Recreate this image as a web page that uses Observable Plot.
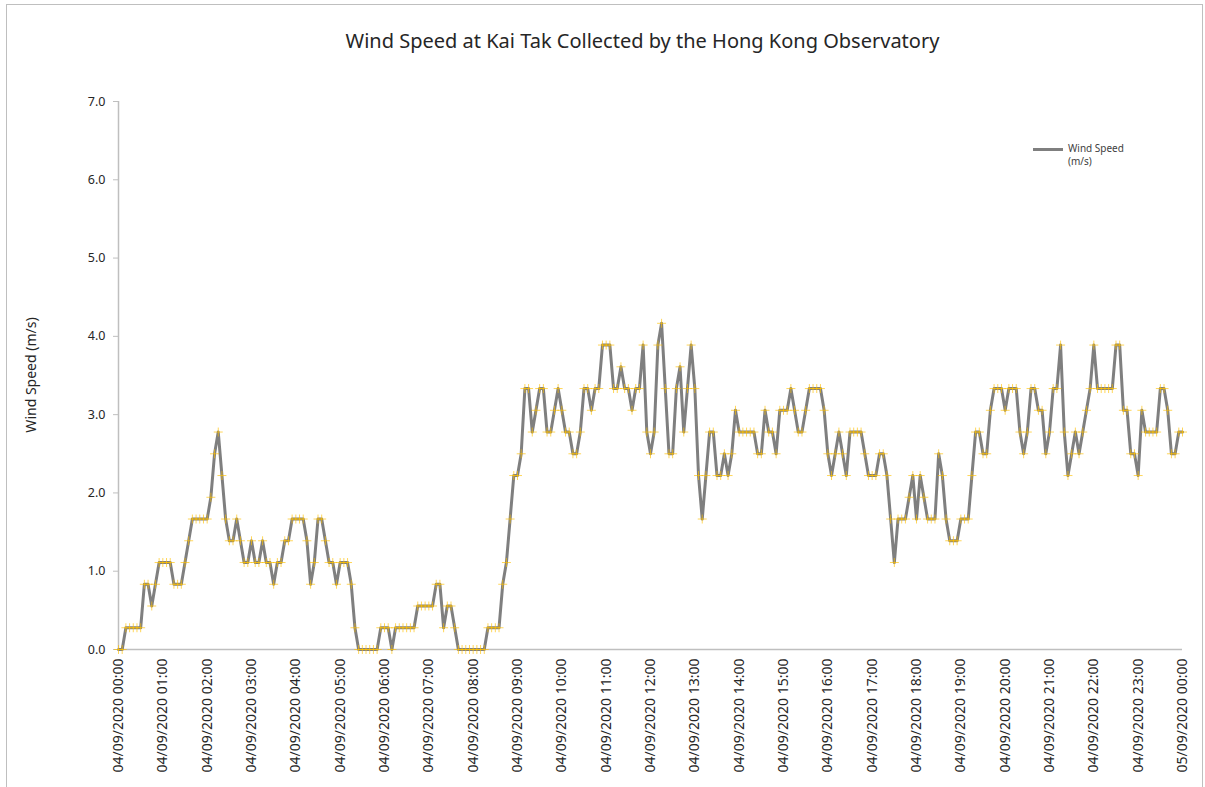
<!DOCTYPE html>
<html>
<head>
<meta charset="utf-8">
<script src="https://cdn.jsdelivr.net/npm/d3@7"></script>
<script src="https://cdn.jsdelivr.net/npm/@observablehq/plot@0.6"></script>
<style>
  html, body { margin: 0; padding: 0; background: #fff; }
  #wrap { position: relative; width: 1205px; height: 787px; overflow: hidden; font-family: "Noto Sans", "Open Sans", sans-serif; }
  #frame { position: absolute; left: 6px; top: 4px; width: 1197px; height: 800px; border: 1px solid #bfbfbf; box-sizing: border-box; }
  #title { position: absolute; left: 0; width: 1285px; top: 27px; text-align: center; font-size: 20px; color: #262626; }
  #chart { position: absolute; left: 0; top: 0; }
  #ylabel { position: absolute; left: 30px; top: 375px; transform: translate(-50%, -50%) rotate(-90deg); font-size: 14px; color: #262626; white-space: nowrap; }
  #legend { position: absolute; left: 1033px; top: 142px; font-size: 10px; color: #404040; line-height: 13px; }
  #legend .sw { position: absolute; left: 0; top: 6px; width: 30px; height: 3px; background: #7f7f7f; }
  #legend .tx { position: absolute; left: 35px; top: 0; white-space: nowrap; }
</style>
</head>
<body>
<div id="wrap">
  <div id="frame"></div>
  <div id="chart"></div>
  <div id="title">Wind Speed at Kai Tak Collected by the Hong Kong Observatory</div>
  <div id="ylabel">Wind Speed (m/s)</div>
  <div id="legend"><div class="sw"></div><div class="tx">Wind Speed<br>(m/s)</div></div>
</div>
<script>
// Series start and sampling step (5-minute readings), 04/09/2020 00:00 to 05/09/2020 00:00
const startTime = Date.UTC(2020, 8, 4, 0, 0);
const endTime = Date.UTC(2020, 8, 5, 0, 0);
const stepMinutes = 5;

// Wind speed readings in km/h, one row per hour, 5-minute steps
const speedKmh = [
  0,0,1,1,1,1,1,3,3,2,3,4,        // 00
  4,4,4,3,3,3,4,5,6,6,6,6,        // 01
  6,7,9,10,8,6,5,5,6,5,4,4,       // 02
  5,4,4,5,4,4,3,4,4,5,5,6,        // 03
  6,6,6,5,3,4,6,6,5,4,4,3,        // 04
  4,4,4,3,1,0,0,0,0,0,0,1,        // 05
  1,1,0,1,1,1,1,1,1,2,2,2,        // 06
  2,2,3,3,1,2,2,1,0,0,0,0,        // 07
  0,0,0,0,1,1,1,1,3,4,6,8,        // 08
  8,9,12,12,10,11,12,12,10,10,11,12, // 09
  11,10,10,9,9,10,12,12,11,12,12,14, // 10
  14,14,12,12,13,12,12,11,12,12,14,10, // 11
  9,10,14,15,12,9,9,12,13,10,12,14,  // 12
  12,8,6,8,10,10,8,8,9,8,9,11,    // 13
  10,10,10,10,10,9,9,11,10,10,9,11, // 14
  11,11,12,11,10,10,11,12,12,12,12,11, // 15
  9,8,9,10,9,8,10,10,10,10,9,8,   // 16
  8,8,9,9,8,6,4,6,6,6,7,8,        // 17
  6,8,7,6,6,6,9,8,6,5,5,5,        // 18
  6,6,6,8,10,10,9,9,11,12,12,12,  // 19
  11,12,12,12,10,9,10,12,12,11,11,9, // 20
  10,12,12,14,10,8,9,10,9,10,11,12, // 21
  14,12,12,12,12,12,14,14,11,11,9,9, // 22
  8,11,10,10,10,10,12,12,11,9,9,10,  // 23
  10                                  // 24:00
];

const yTicks = [0, 1, 2, 3, 4, 5, 6, 7];

const data = speedKmh.map((k, i) => ({
  time: new Date(startTime + i * stepMinutes * 60000),
  speed: k / 3.6
}));
const hourTicks = d3.utcHours(new Date(startTime), new Date(endTime + 1));
const fmt = d3.utcFormat("%d/%m/%Y %H:%M");

const chart = Plot.plot({
  width: 1205,
  height: 787,
  marginLeft: 118,
  marginRight: 23,
  marginTop: 101,
  marginBottom: 138,
  style: { fontFamily: "'Noto Sans', 'Open Sans', sans-serif", fontSize: "12px", color: "#262626", background: "transparent", overflow: "visible" },
  x: { type: "utc", domain: [new Date(startTime), new Date(endTime)] },
  y: { domain: [0, 7] },
  marks: [
    Plot.axisX({ ticks: hourTicks, tickFormat: fmt, tickRotate: -90, tickSize: 0, tickPadding: 9, label: null, fontSize: 14, textAnchor: "end" }),
    Plot.axisY({ ticks: yTicks, tickFormat: d3.format(".1f"), tickSize: 5, tickPadding: 8, stroke: "#bfbfbf", label: null, fontSize: 12.5 }),
    Plot.ruleY([0], { stroke: "#bfbfbf", strokeWidth: 1.5 }),
    Plot.ruleX([new Date(startTime)], { stroke: "#bfbfbf", strokeWidth: 1.5 }),
    Plot.line(data, { x: "time", y: "speed", stroke: "#7f7f7f", strokeWidth: 3, strokeLinejoin: "round" }),
    Plot.dot(data, { x: "time", y: "speed", symbol: "plus", r: 3, stroke: "#FFC000", strokeWidth: 1, strokeOpacity: 0.65 })
  ]
});
document.getElementById("chart").appendChild(chart);
</script>
</body>
</html>
